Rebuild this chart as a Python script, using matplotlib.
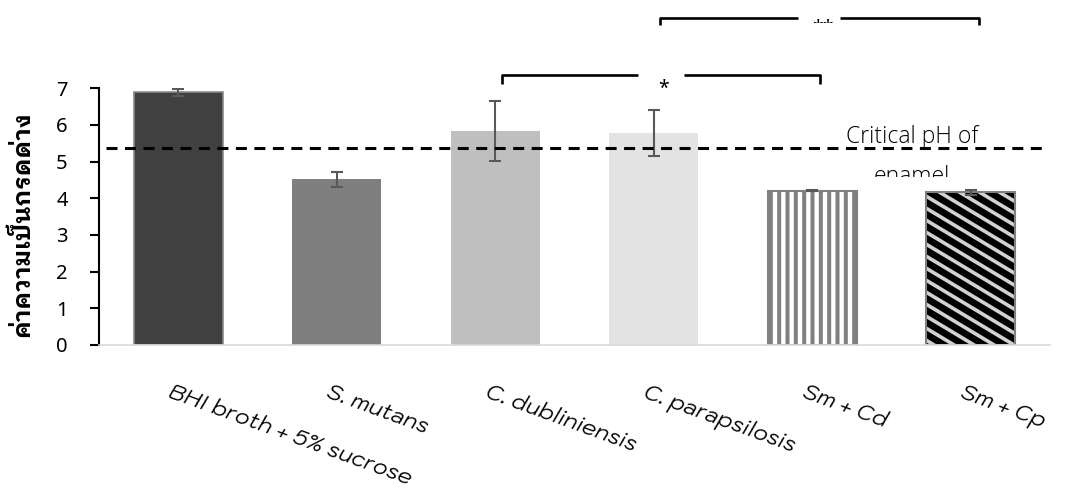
import matplotlib
matplotlib.use("Agg")
import numpy as np
import matplotlib.pyplot as plt
from matplotlib.collections import LineCollection
from matplotlib.transforms import Bbox, TransformedBbox, blended_transform_factory

# Final pH of each culture (mean ± SD)
categories = ["BHI broth + 5% sucrose", "S. mutans", "C. dubliniensis",
              "C. parapsilosis", "Sm + Cd", "Sm + Cp"]
ph_mean = [6.89, 4.52, 5.84, 5.78, 4.21, 4.17]
ph_sd = [0.10, 0.20, 0.82, 0.63, 0.02, 0.07]
critical_ph = 5.37
y_ticks = [0, 1, 2, 3, 4, 5, 6, 7]
y_label = "ค่าความเป็นกรดด่าง"

# significance brackets: (left category, right category, label)
brackets = [(2, 4, "*"), (3, 5, "**")]

fig = plt.figure(figsize=(10.71, 4.98), dpi=100)
ax = fig.add_axes([99 / 1071, 1 - 345 / 498, 951 / 1071, (345 - 88.3) / 498])

x = list(range(len(categories)))
width = 0.56

solid_colors = ["#404040", "#7f7f7f", "#bfbfbf", "#e3e3e3"]
for i in range(4):
    ax.bar(x[i], ph_mean[i], width, color=solid_colors[i],
           edgecolor="#8a8a8a" if i == 0 else "none", linewidth=1.2 if i == 0 else 0,
           zorder=1)

# Sm + Cd: vertical grey stripes on white
with plt.rc_context({"hatch.linewidth": 2.9}):
    ax.bar(x[4], ph_mean[4], width, facecolor="white", edgecolor="#808080",
           hatch="||", linewidth=1.5, zorder=1)

# Sm + Cp: light diagonal stripes on black, grey outline
cp_bar = ax.bar(x[5], ph_mean[5], width, facecolor="black", edgecolor="none",
                linewidth=0, zorder=1)[0]
px_x, px_y = 158.5, 36.67          # pixels per data unit
slope = -0.6 * px_x / px_y         # stripe direction in data units
step = 20 / px_x                   # horizontal stripe spacing
left = x[5] - width / 2
top = ph_mean[5] + 0.2
reach = (top + 0.2) / -slope
starts = np.arange(left - reach, left + width + step, step)
segs = [[(s0, top), (s0 + reach + 0.1, top + slope * (reach + 0.1))] for s0 in starts]
stripes = LineCollection(segs, colors="#d2d2d2", linewidths=2.6, zorder=1.05)
ax.add_collection(stripes)
stripes.set_clip_path(cp_bar)
ax.bar(x[5], ph_mean[5], width, facecolor="none", edgecolor="#808080",
       linewidth=1.5, zorder=1.1)

ax.errorbar(x, ph_mean, yerr=ph_sd, fmt="none", ecolor="#595959",
            elinewidth=1.5, capsize=4.5, capthick=1.5, zorder=2.5)

# critical pH of enamel
ax.plot([-0.456, 5.47], [critical_ph, critical_ph], color="black", lw=2.2,
        dashes=(3.6, 2.45), zorder=3, dash_capstyle="butt")
ax.text(4.63, 5.51, "Critical pH of", ha="center", va="baseline",
        family="Open Sans", weight="light", fontsize=16.5, color="black", zorder=4)
t = ax.text(4.63, 4.43, "enamel", ha="center", va="baseline",
            family="Open Sans", weight="light", fontsize=16.5, color="black", zorder=4)
t.set_clip_box(TransformedBbox(Bbox([[3.8, 4.58], [5.5, 6.0]]), ax.transData))
t.set_clip_on(True)

# significance brackets above the bars
bracket_y = [7.36, 8.93]
drop = [0.24, 0.20]
gap_half = [0.145, 0.133]
star_y = [6.98, 8.88]
for (l, r, lab), yb, d, g, sy in zip(brackets, bracket_y, drop, gap_half, star_y):
    xl, xr = l + 0.04, r + 0.05
    xm = (xl + xr) / 2
    kw = dict(color="black", lw=1.9, clip_on=False, solid_capstyle="butt")
    ax.plot([xl, xl, xm - g], [yb - d, yb, yb], **kw)
    ax.plot([xm + g, xr, xr], [yb, yb, yb - d], **kw)
    if lab == "*":
        ax.text(xm + 0.02, sy, lab, ha="center", va="center", fontsize=14,
                weight="bold", family="Noto Sans", clip_on=False)
    else:
        s = ax.text(xm + 0.02, sy, lab, ha="center", va="top", fontsize=14,
                    weight="bold", family="Noto Sans")
        s.set_clip_box(TransformedBbox(Bbox([[3.5, 8.77], [4.6, 9.5]]), ax.transData))
        s.set_clip_on(True)

ax.set_xlim(-0.5, 5.5)
ax.set_ylim(0, 7)
ax.set_yticks(y_ticks)
ax.set_yticklabels([str(v) for v in y_ticks], family="Noto Sans", fontsize=14.5)
ax.tick_params(axis="y", length=6.5, width=1.5, pad=16, color="black")
ax.set_xticks([])

for s in ["top", "right"]:
    ax.spines[s].set_visible(False)
ax.spines["left"].set_color("black")
ax.spines["left"].set_linewidth(1.5)
ax.spines["bottom"].set_color("#d9d9d9")
ax.spines["bottom"].set_linewidth(1.2)

# rotated category labels
trans = blended_transform_factory(ax.transData, ax.transAxes)
for i, lab in enumerate(categories):
    ax.text(i - 0.035, -0.14, lab, transform=trans, rotation=-20,
            rotation_mode="anchor", ha="left", va="top", family="Kodchasan",
            style="italic", fontsize=16, clip_on=False)

fig.text(22 / 1071, 1 - 224 / 498, y_label, rotation=90, ha="center", va="center",
         family="IBM Plex Sans Thai Looped", weight="bold", fontsize=17.4)

fig.savefig("out.png", dpi=100)
